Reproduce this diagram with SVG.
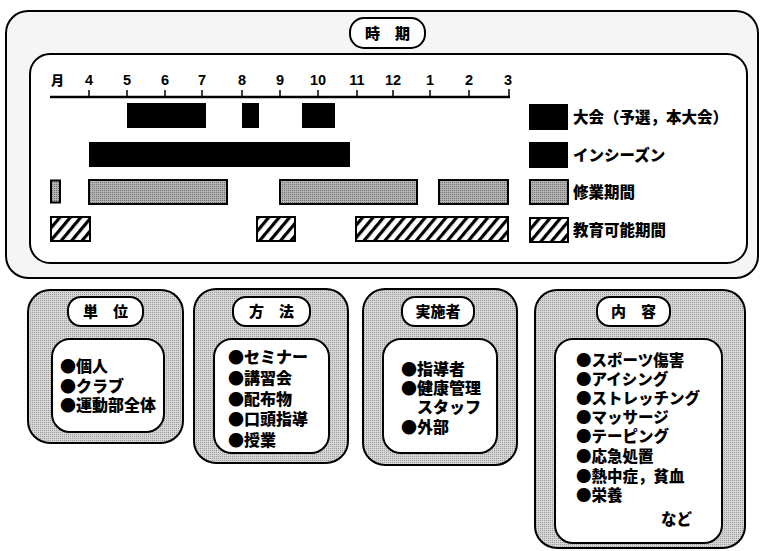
<svg xmlns="http://www.w3.org/2000/svg" width="763" height="551" viewBox="0 0 763 551">
<defs>
<pattern id="hatch" patternUnits="userSpaceOnUse" width="8" height="8" patternTransform="rotate(40)">
<rect width="8" height="8" fill="#fff"/>
<rect x="0" y="0" width="3.2" height="8" fill="#000"/>
</pattern>
<pattern id="dots" patternUnits="userSpaceOnUse" width="2" height="2">
<rect width="2" height="2" fill="#d6d6d6"/>
<rect width="1" height="1" fill="#9a9a9a"/>
</pattern>
<pattern id="gdots" patternUnits="userSpaceOnUse" width="2" height="2">
<rect width="2" height="2" fill="#b4b4b4"/>
<rect width="1" height="1" fill="#707070"/>
</pattern>
</defs>
<style>
.frame{fill:#f5f5f5;stroke:#000;stroke-width:2}
.panel{fill:url(#dots);stroke:#000;stroke-width:2}
.inner{fill:#fff;stroke:#000;stroke-width:2}
.pill{fill:#fff;stroke:#000;stroke-width:2}
.blk{fill:#000}
.gry{fill:url(#gdots);stroke:#000;stroke-width:2}
.hat{fill:url(#hatch);stroke:#000;stroke-width:2}
.t{font-family:"Noto Sans CJK JP","Noto Sans",sans-serif;font-weight:900;fill:#000}
.num{font-family:"Liberation Sans",Arial,sans-serif;font-weight:bold;font-size:14.5px;text-anchor:middle}
.ttl{font-size:15px;text-anchor:middle}
.lg{font-size:15.5px}
.li{font-size:16px}
.lk{font-size:15.5px}
</style>
<g id="period">
<rect class="frame" x="6" y="11" width="752" height="267" rx="22"/>
<rect class="pill" x="350" y="18" width="75" height="30" rx="14"/>
<text class="t ttl" x="387.5" y="38.5">時　期</text>
<rect class="inner" x="30" y="54" width="717" height="209" rx="20"/>
<g id="axis">
<line x1="50" y1="97" x2="510" y2="97" stroke="#000" stroke-width="2.5"/>
<g stroke="#000" stroke-width="1.5">
<line x1="89" y1="90" x2="89" y2="97"/><line x1="127" y1="90" x2="127" y2="97"/><line x1="165" y1="90" x2="165" y2="97"/><line x1="202" y1="90" x2="202" y2="97"/><line x1="242" y1="90" x2="242" y2="97"/><line x1="280" y1="90" x2="280" y2="97"/><line x1="318" y1="90" x2="318" y2="97"/><line x1="357" y1="90" x2="357" y2="97"/><line x1="393" y1="90" x2="393" y2="97"/><line x1="430" y1="90" x2="430" y2="97"/><line x1="469" y1="90" x2="469" y2="97"/><line x1="509" y1="89" x2="509" y2="97"/>
</g>
<text class="t" x="51" y="85" font-size="13px">月</text>
<text class="t num" x="89" y="85">4</text><text class="t num" x="127" y="85">5</text><text class="t num" x="165" y="85">6</text><text class="t num" x="202" y="85">7</text><text class="t num" x="242" y="85">8</text><text class="t num" x="280" y="85">9</text><text class="t num" x="318" y="85">10</text><text class="t num" x="357" y="85">11</text><text class="t num" x="393" y="85">12</text><text class="t num" x="430" y="85">1</text><text class="t num" x="469" y="85">2</text><text class="t num" x="508" y="85">3</text>
</g>
<g id="bars">
<rect class="blk" x="127" y="103" width="79" height="25"/>
<rect class="blk" x="242" y="103" width="17" height="25"/>
<rect class="blk" x="302" y="103" width="33" height="25"/>
<rect class="blk" x="89" y="142" width="261" height="25"/>
<rect class="gry" x="51" y="180.5" width="9" height="22"/>
<rect class="gry" x="89" y="180" width="138" height="24"/>
<rect class="gry" x="280" y="180" width="137" height="24"/>
<rect class="gry" x="439" y="180" width="69" height="24"/>
<rect class="hat" x="51" y="217" width="39" height="24"/>
<rect class="hat" x="257" y="217" width="38" height="24"/>
<rect class="hat" x="356" y="217" width="152" height="24"/>
</g>
<g id="legend">
<rect class="blk" x="529" y="104" width="39" height="26"/>
<text class="t lg" x="573" y="122.5">大会（予選，本大会）</text>
<rect class="blk" x="529" y="142" width="39" height="26"/>
<text class="t lg" x="573" y="160.5">インシーズン</text>
<rect class="gry" x="530" y="180" width="38" height="24"/>
<text class="t lg" x="573" y="197.5">修業期間</text>
<rect class="hat" x="530" y="218" width="38" height="24"/>
<text class="t lg" x="573" y="235.5">教育可能期間</text>
</g>
</g>
<g id="unit">
<rect class="panel" x="28" y="290" width="155" height="153" rx="22"/>
<rect class="pill" x="68" y="297" width="75" height="29" rx="13"/>
<text class="t ttl" x="105.5" y="317">単　位</text>
<rect class="inner" x="52" y="339" width="112" height="93" rx="18"/>
<text class="t li"><tspan x="60" y="372">●個人</tspan><tspan x="60" y="391.5">●クラブ</tspan><tspan x="60" y="411">●運動部全体</tspan></text>
</g>
<g id="method">
<rect class="panel" x="194" y="289" width="154" height="174" rx="22"/>
<rect class="pill" x="233" y="297" width="77" height="29" rx="13"/>
<text class="t ttl" x="271.5" y="317">方　法</text>
<rect class="inner" x="214" y="339" width="115" height="114" rx="18"/>
<text class="t li"><tspan x="228" y="363">●セミナー</tspan><tspan x="228" y="384">●講習会</tspan><tspan x="228" y="404.5">●配布物</tspan><tspan x="228" y="425">●口頭指導</tspan><tspan x="228" y="445.5">●授業</tspan></text>
</g>
<g id="implementer">
<rect class="panel" x="363" y="289" width="154" height="176" rx="22"/>
<rect class="pill" x="402" y="297" width="72" height="29" rx="13"/>
<text class="t ttl" x="438" y="317">実施者</text>
<rect class="inner" x="383" y="339" width="114" height="114" rx="18"/>
<text class="t li"><tspan x="401" y="375">●指導者</tspan><tspan x="401" y="394">●健康管理</tspan><tspan x="417" y="413">スタッフ</tspan><tspan x="401" y="432.5">●外部</tspan></text>
</g>
<g id="content">
<rect class="panel" x="535" y="290" width="210" height="258" rx="22"/>
<rect class="pill" x="597" y="297" width="73" height="29" rx="13"/>
<text class="t ttl" x="633.5" y="317">内　容</text>
<rect class="inner" x="555" y="339" width="167" height="204" rx="18"/>
<text class="t lk"><tspan x="576" y="365.5">●スポーツ傷害</tspan><tspan x="576" y="384.5">●アイシング</tspan><tspan x="576" y="404">●ストレッチング</tspan><tspan x="576" y="423">●マッサージ</tspan><tspan x="576" y="442">●テーピング</tspan><tspan x="576" y="462">●応急処置</tspan><tspan x="576" y="481.5">●熱中症，貧血</tspan><tspan x="576" y="500.5">●栄養</tspan><tspan x="661" y="525">など</tspan></text>
</g>
<g id="connectors"/>
</svg>
